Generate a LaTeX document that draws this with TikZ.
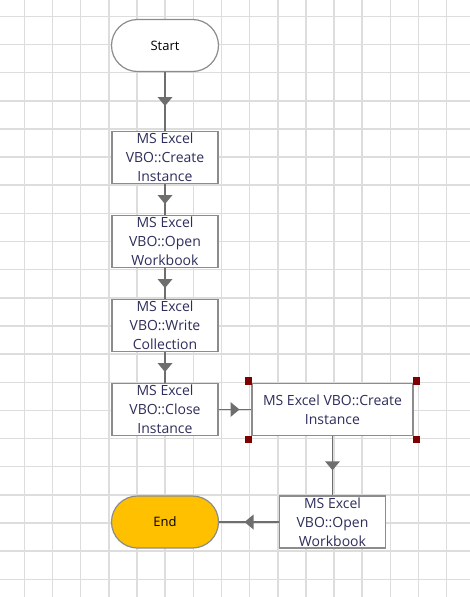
\documentclass[tikz,border=0pt]{standalone}
\usepackage{fontspec}
\setmainfont{Open Sans}
\usetikzlibrary{positioning,decorations.markings}
\definecolor{gridcolor}{HTML}{DDDDDD}
\definecolor{bordercolor}{HTML}{8C8C8C}
\definecolor{flowcolor}{HTML}{6E6E6E}
\definecolor{textcolor}{HTML}{2E2E5C}
\definecolor{endcolor}{HTML}{FFC000}
\definecolor{handlecolor}{HTML}{7F0000}

\begin{document}
\begin{tikzpicture}[
    x=1pt, y=-1pt,
    node distance=84pt, on grid,
    box/.style={rectangle, draw=bordercolor, line width=1.2pt, fill=white,
                minimum width=106pt, minimum height=52pt, inner sep=0pt,
                align=center, text=textcolor,
                font=\fontsize{14}{19}\selectfont},
    terminal/.style={box, rounded corners=26pt, minimum width=107pt,
                     text=black, font=\fontsize{13}{19}\selectfont},
    flow/.style={draw=flowcolor, line width=1.5pt, postaction={decorate},
                 decoration={markings, mark=at position 0.5 with
                 {\fill[flowcolor] (-4.5pt,7.5pt) -- (4.5pt,0pt) -- (-4.5pt,-7.5pt) -- cycle;}}},
    handle/.style={rectangle, fill=handlecolor, minimum size=7.5pt, inner sep=0pt}
]
\useasboundingbox (0,0) rectangle (470,597);

% grid
\foreach \gx in {0,...,15}
    \draw[gridcolor, line width=1.5pt] ({24.4+28.15*\gx},0) -- ++(0,597);
\foreach \gy in {0,...,20}
    \draw[gridcolor, line width=1.5pt] (0,{16.3+28.15*\gy}) -- ++(470,0);

\node[terminal] (start) at (165,45.5) {Start};
\node[box, below=112pt of start] (create) {MS Excel\\VBO::Create\\Instance};
\node[box, below=of create] (openbook) {MS Excel\\VBO::Open\\Workbook};
\node[box, below=of openbook] (write) {MS Excel\\VBO::Write\\Collection};
\node[box, below=of write] (close) {MS Excel\\VBO::Close\\Instance};
\node[box, right=167.5pt of close, minimum width=161pt] (recreate) {MS Excel VBO::Create\\Instance};
\node[box, below=112.5pt of recreate] (reopen) {MS Excel\\VBO::Open\\Workbook};
\node[terminal, fill=endcolor, left=167.5pt of reopen] (finish) {End};

% selection handles
\node[handle] (handlenw) at ([shift={(-3,-2)}]recreate.north west) {};
\node[handle] (handlene) at ([shift={(3,-2)}]recreate.north east) {};
\node[handle] (handlesw) at ([shift={(-3,3.5)}]recreate.south west) {};
\node[handle] (handlese) at ([shift={(3,3.5)}]recreate.south east) {};

\draw[flow] (start) -- (create);
\draw[flow] (create) -- (openbook);
\draw[flow] (openbook) -- (write);
\draw[flow] (write) -- (close);
\draw[flow] (close) -- (recreate);
\draw[flow] (recreate) -- (reopen);
\draw[flow] (reopen) -- (finish);
\end{tikzpicture}
\end{document}
